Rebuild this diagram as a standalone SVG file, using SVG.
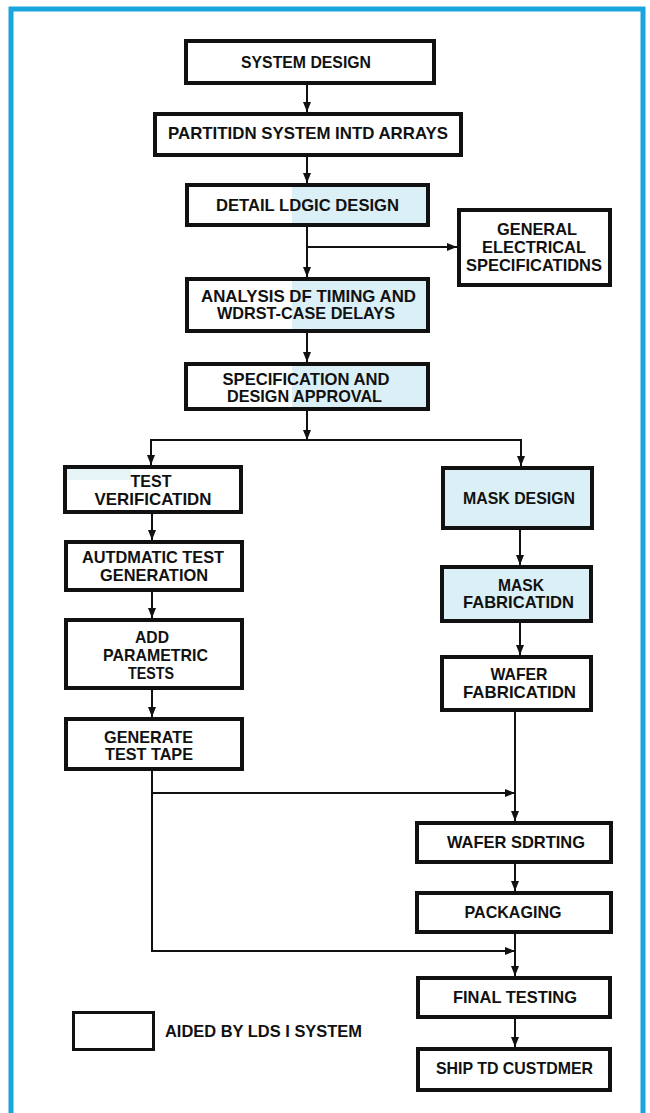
<svg xmlns="http://www.w3.org/2000/svg" width="650" height="1113" viewBox="0 0 650 1113">
<style>
.box{fill:#fff;stroke:#111;stroke-width:4}
.tint{fill:#dbeff6;stroke:#111;stroke-width:4}
.half{fill:url(#halfTint);stroke:#111;stroke-width:4}
.lbl{font-family:"Liberation Sans",Arial,sans-serif;font-weight:bold;font-size:17px;fill:#111;text-anchor:middle}
.leg{font-family:"Liberation Sans",Arial,sans-serif;font-weight:bold;font-size:17px;fill:#111}
.con{fill:none;stroke:#111;stroke-width:2}
.arr{marker-end:url(#ah)}
.frame{fill:none;stroke:#1ba5de;stroke-width:5}
</style>
<defs>
<marker id="ah" viewBox="0 0 10 10" refX="10" refY="5" markerWidth="10" markerHeight="10" markerUnits="userSpaceOnUse" orient="auto">
<path d="M0,1 L10,5 L0,9 z" fill="#111"/>
</marker>
<linearGradient id="halfTint" gradientUnits="userSpaceOnUse" x1="0" y1="0" x2="650" y2="0">
<stop offset="0.449" stop-color="#ffffff"/>
<stop offset="0.449" stop-color="#dbeff6"/>
</linearGradient>
</defs>
<rect x="0" y="0" width="650" height="1113" fill="#fff"/>
<path class="frame" d="M11 1113 V9 H643 V1113"/>

<g id="connectors">
<path class="con arr" d="M307 85 V112"/>
<path class="con arr" d="M307 157 V183"/>
<path class="con arr" d="M307 227 V277"/>
<path class="con arr" d="M307 247 H457"/>
<path class="con arr" d="M307 333 V362"/>
<path class="con arr" d="M307 411 V440"/>
<path class="con arr" d="M307 440 H151 V465"/>
<path class="con arr" d="M307 440 H521 V466"/>
<path class="con arr" d="M152 514 V540"/>
<path class="con arr" d="M152 592 V618"/>
<path class="con arr" d="M152 690 V717"/>
<path class="con arr" d="M152 771 V951 H515"/>
<path class="con arr" d="M152 793 H515"/>
<path class="con arr" d="M520 530 V565"/>
<path class="con arr" d="M520 623 V655"/>
<path class="con arr" d="M515 712 V821"/>
<path class="con arr" d="M515 864 V891"/>
<path class="con arr" d="M515 934 V976"/>
<path class="con arr" d="M515 1019 V1047"/>
</g>

<g id="system-design">
<rect class="box" x="186" y="41" width="248" height="42"/>
<text class="lbl" x="306" y="68" textLength="130" lengthAdjust="spacingAndGlyphs">SYSTEM DESIGN</text>
</g>
<g id="partition">
<rect class="box" x="155" y="114" width="306" height="41"/>
<text class="lbl" x="308" y="139" textLength="280" lengthAdjust="spacingAndGlyphs">PARTITIDN SYSTEM INTD ARRAYS</text>
</g>
<g id="detail-logic">
<rect class="half" x="187" y="185" width="241" height="40"/>
<text class="lbl" x="307.5" y="211" textLength="183" lengthAdjust="spacingAndGlyphs">DETAIL LDGIC DESIGN</text>
</g>
<g id="general-electrical">
<rect class="box" x="459" y="210" width="151" height="75"/>
<text class="lbl" x="537" y="235" textLength="80" lengthAdjust="spacingAndGlyphs">GENERAL</text>
<text class="lbl" x="534" y="253" textLength="104" lengthAdjust="spacingAndGlyphs">ELECTRICAL</text>
<text class="lbl" x="534" y="271" textLength="136" lengthAdjust="spacingAndGlyphs">SPECIFICATIDNS</text>
</g>
<g id="analysis">
<rect class="half" x="187" y="279" width="241" height="52"/>
<text class="lbl" x="308.5" y="302" textLength="215" lengthAdjust="spacingAndGlyphs">ANALYSIS DF TIMING AND</text>
<text class="lbl" x="306" y="319" textLength="178" lengthAdjust="spacingAndGlyphs">WDRST-CASE DELAYS</text>
</g>
<g id="spec-approval">
<rect class="half" x="186" y="364" width="242" height="45"/>
<text class="lbl" x="306" y="385" textLength="167" lengthAdjust="spacingAndGlyphs">SPECIFICATION AND</text>
<text class="lbl" x="304.5" y="402" textLength="155" lengthAdjust="spacingAndGlyphs">DESIGN APPROVAL</text>
</g>
<g id="test-verification">
<rect class="box" x="65" y="467" width="176" height="45"/>
<rect x="67" y="469" width="64" height="11" fill="#e6f4f8"/>
<text class="lbl" x="151" y="487" textLength="41" lengthAdjust="spacingAndGlyphs">TEST</text>
<text class="lbl" x="153" y="505" textLength="117" lengthAdjust="spacingAndGlyphs">VERIFICATIDN</text>
</g>
<g id="automatic-test">
<rect class="box" x="66" y="542" width="176" height="48"/>
<text class="lbl" x="153" y="563" textLength="142" lengthAdjust="spacingAndGlyphs">AUTDMATIC TEST</text>
<text class="lbl" x="154" y="581" textLength="108" lengthAdjust="spacingAndGlyphs">GENERATION</text>
</g>
<g id="parametric-tests">
<rect class="box" x="66" y="620" width="176" height="68"/>
<text class="lbl" x="152" y="643" textLength="34" lengthAdjust="spacingAndGlyphs">ADD</text>
<text class="lbl" x="155.5" y="661" textLength="105" lengthAdjust="spacingAndGlyphs">PARAMETRIC</text>
<text class="lbl" x="151" y="679" textLength="46" lengthAdjust="spacingAndGlyphs">TESTS</text>
</g>
<g id="test-tape">
<rect class="box" x="66" y="719" width="176" height="50"/>
<text class="lbl" x="148.5" y="743" textLength="89" lengthAdjust="spacingAndGlyphs">GENERATE</text>
<text class="lbl" x="149" y="760" textLength="88" lengthAdjust="spacingAndGlyphs">TEST TAPE</text>
</g>
<g id="mask-design">
<rect class="tint" x="443" y="468" width="149" height="60"/>
<text class="lbl" x="519" y="504" textLength="112" lengthAdjust="spacingAndGlyphs">MASK DESIGN</text>
</g>
<g id="mask-fabrication">
<rect class="tint" x="442" y="567" width="149" height="54"/>
<text class="lbl" x="521" y="591" textLength="46" lengthAdjust="spacingAndGlyphs">MASK</text>
<text class="lbl" x="518.5" y="608" textLength="111" lengthAdjust="spacingAndGlyphs">FABRICATIDN</text>
</g>
<g id="wafer-fabrication">
<rect class="box" x="442" y="657" width="149" height="53"/>
<text class="lbl" x="519" y="680" textLength="57" lengthAdjust="spacingAndGlyphs">WAFER</text>
<text class="lbl" x="519.5" y="698" textLength="113" lengthAdjust="spacingAndGlyphs">FABRICATIDN</text>
</g>
<g id="wafer-sorting">
<rect class="box" x="417" y="823" width="194" height="39"/>
<text class="lbl" x="516" y="848" textLength="138" lengthAdjust="spacingAndGlyphs">WAFER SDRTING</text>
</g>
<g id="packaging">
<rect class="box" x="417" y="893" width="194" height="39"/>
<text class="lbl" x="513" y="918" textLength="97" lengthAdjust="spacingAndGlyphs">PACKAGING</text>
</g>
<g id="final-testing">
<rect class="box" x="418" y="978" width="192" height="39"/>
<text class="lbl" x="515" y="1003" textLength="124" lengthAdjust="spacingAndGlyphs">FINAL TESTING</text>
</g>
<g id="ship-to-customer">
<rect class="box" x="418" y="1049" width="192" height="41"/>
<text class="lbl" x="514.5" y="1074" textLength="157" lengthAdjust="spacingAndGlyphs">SHIP TD CUSTDMER</text>
</g>
<g id="legend">
<rect class="box" x="73.5" y="1012.5" width="80" height="37" style="stroke-width:3"/>
<text class="leg" x="165" y="1037" textLength="197" lengthAdjust="spacingAndGlyphs">AIDED BY LDS I SYSTEM</text>
</g>
</svg>
